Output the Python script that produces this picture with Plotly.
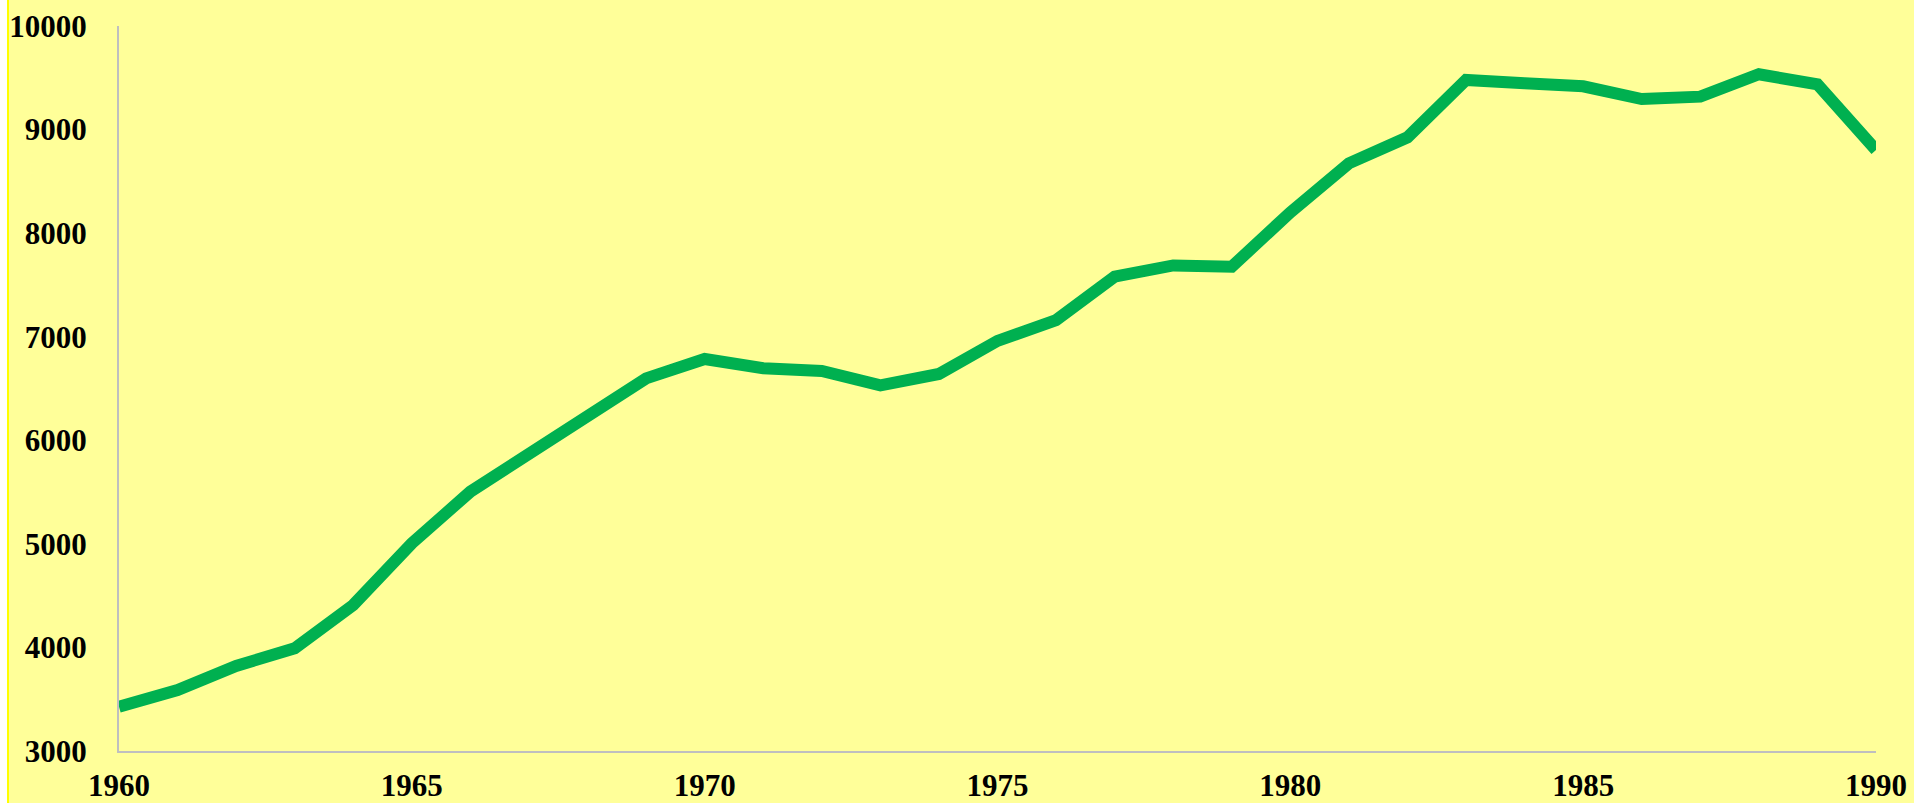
import plotly.graph_objects as go

years = list(range(1960, 1991))
values = [3428, 3589, 3821, 3992, 4410, 5005, 5504, 5858, 6222, 6598,
          6785, 6695, 6669, 6531, 6640, 6960, 7161, 7580, 7688, 7676,
          8200, 8674, 8925, 9479, 9447, 9418, 9295, 9318, 9534, 9437, 8803]
x_ticks = [1960, 1965, 1970, 1975, 1980, 1985, 1990]
y_ticks = [3000, 4000, 5000, 6000, 7000, 8000, 9000, 10000]

W, H = 1914, 803
ML, MR, MT, MB = 119, 38, 26, 52
pw = W - ML - MR

fig = go.Figure()
fig.add_trace(go.Scatter(
    x=years, y=values, mode="lines",
    line=dict(color="#00B050", width=12),
    hoverinfo="x+y", showlegend=False,
))

tick_font = dict(family="Liberation Serif, Times New Roman, serif", size=31,
                 color="black", weight="bold")

fig.update_layout(
    width=W, height=H,
    margin=dict(l=ML, r=MR, t=MT, b=MB, pad=0, autoexpand=False),
    paper_bgcolor="#FFFF99",
    plot_bgcolor="#FFFF99",
    xaxis=dict(
        range=[1960, 1990], tickvals=x_ticks, ticktext=[str(t) for t in x_ticks],
        showgrid=False, zeroline=False, showline=True, linecolor="#BFBFBF", linewidth=2,
        ticks="outside", ticklen=6, tickcolor="rgba(0,0,0,0)",
        tickfont=tick_font, fixedrange=True, automargin=False,
    ),
    yaxis=dict(
        range=[3000, 10000], tickvals=y_ticks, ticktext=[str(t) for t in y_ticks],
        showgrid=False, zeroline=False, showline=True, linecolor="#BFBFBF", linewidth=2,
        ticks="outside", ticklen=24, tickcolor="rgba(0,0,0,0)",
        tickfont=tick_font, fixedrange=True, automargin=False,
    ),
    shapes=[
        dict(type="rect", xref="paper", yref="paper",
             x0=(0 - ML) / pw, x1=(7 - ML) / pw, y0=-2, y1=2,
             fillcolor="white", line=dict(width=0), layer="below"),
        dict(type="line", xref="paper", yref="paper",
             x0=(8 - ML) / pw, x1=(8 - ML) / pw, y0=-2, y1=2,
             line=dict(color="#FFFF00", width=2), layer="below"),
    ],
)

fig.write_html(
    "out.html",
    config={"displayModeBar": False},
    post_script="document.body.style.margin='0';document.body.style.overflow='hidden';",
)
